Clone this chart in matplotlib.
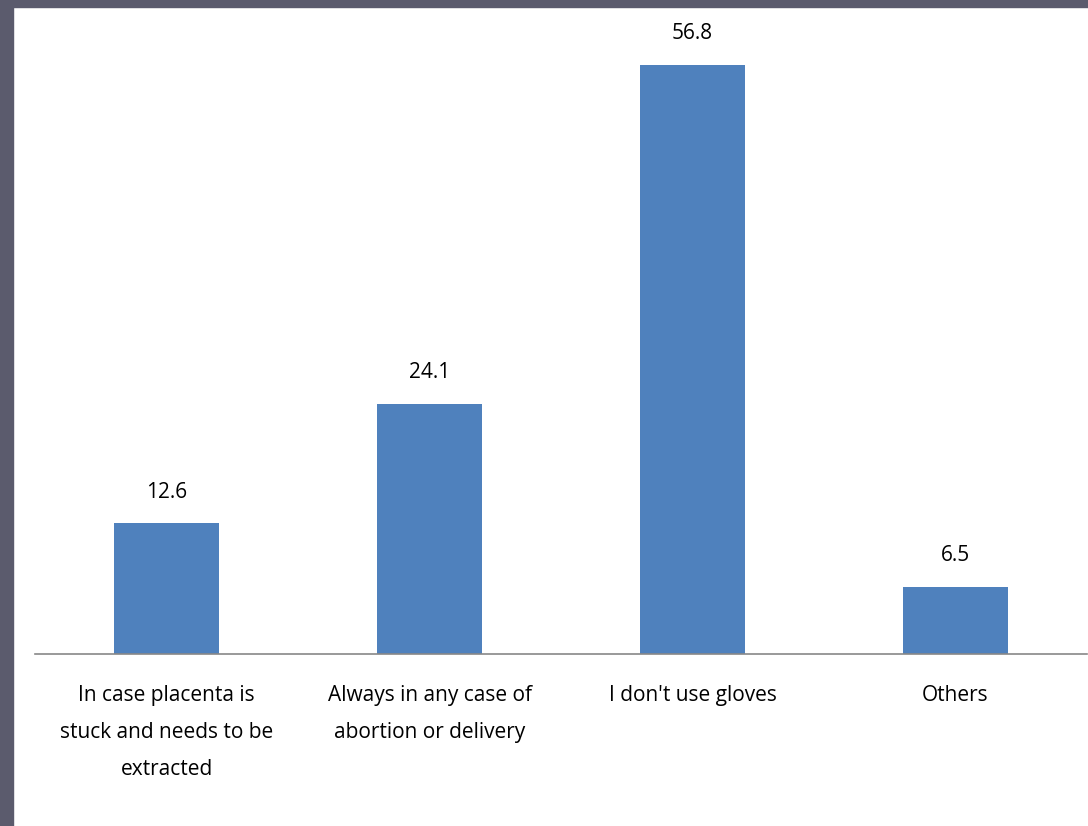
import matplotlib.pyplot as plt
from matplotlib.patches import Rectangle

categories = ["In case placenta is\nstuck and needs to be\nextracted",
              "Always in any case of\nabortion or delivery",
              "I don't use gloves",
              "Others"]
values = [12.6, 24.1, 56.8, 6.5]

plt.rcParams['font.family'] = ['Open Sans', 'DejaVu Sans']

fig = plt.figure(figsize=(10.88, 8.26), dpi=100)
fig.patch.set_facecolor('white')

ax = fig.add_axes([35 / 1088, (826 - 654) / 826, (1087 - 35) / 1088, (654 - 7) / 826])
ax.patch.set_visible(False)
x = range(len(values))
ax.bar(x, values, width=0.4, color='#4f81bd')
ax.set_xlim(-0.5, 3.5)
ax.set_ylim(0, 62.4)

for i, v in enumerate(values):
    ax.text(i, v + 2.0, f"{v}", ha='center', va='bottom', fontsize=15, color='black')

ax.set_xticks(list(x))
ax.set_xticklabels(categories, fontsize=15, linespacing=2.0, va='top')
ax.tick_params(axis='x', length=0, pad=22)
ax.set_yticks([])
for s in ['top', 'right', 'left']:
    ax.spines[s].set_visible(False)
ax.spines['bottom'].set_color('#888888')
ax.spines['bottom'].set_linewidth(1.2)

# dark frame on left and top
fig.add_artist(Rectangle((0, 0), 13 / 1088, 1, transform=fig.transFigure,
                         color='#5b5b6d', zorder=5))
fig.add_artist(Rectangle((0, 1 - 7 / 826), 1, 7 / 826, transform=fig.transFigure,
                         color='#5b5b6d', zorder=5))

fig.savefig('out.png', dpi=100)
